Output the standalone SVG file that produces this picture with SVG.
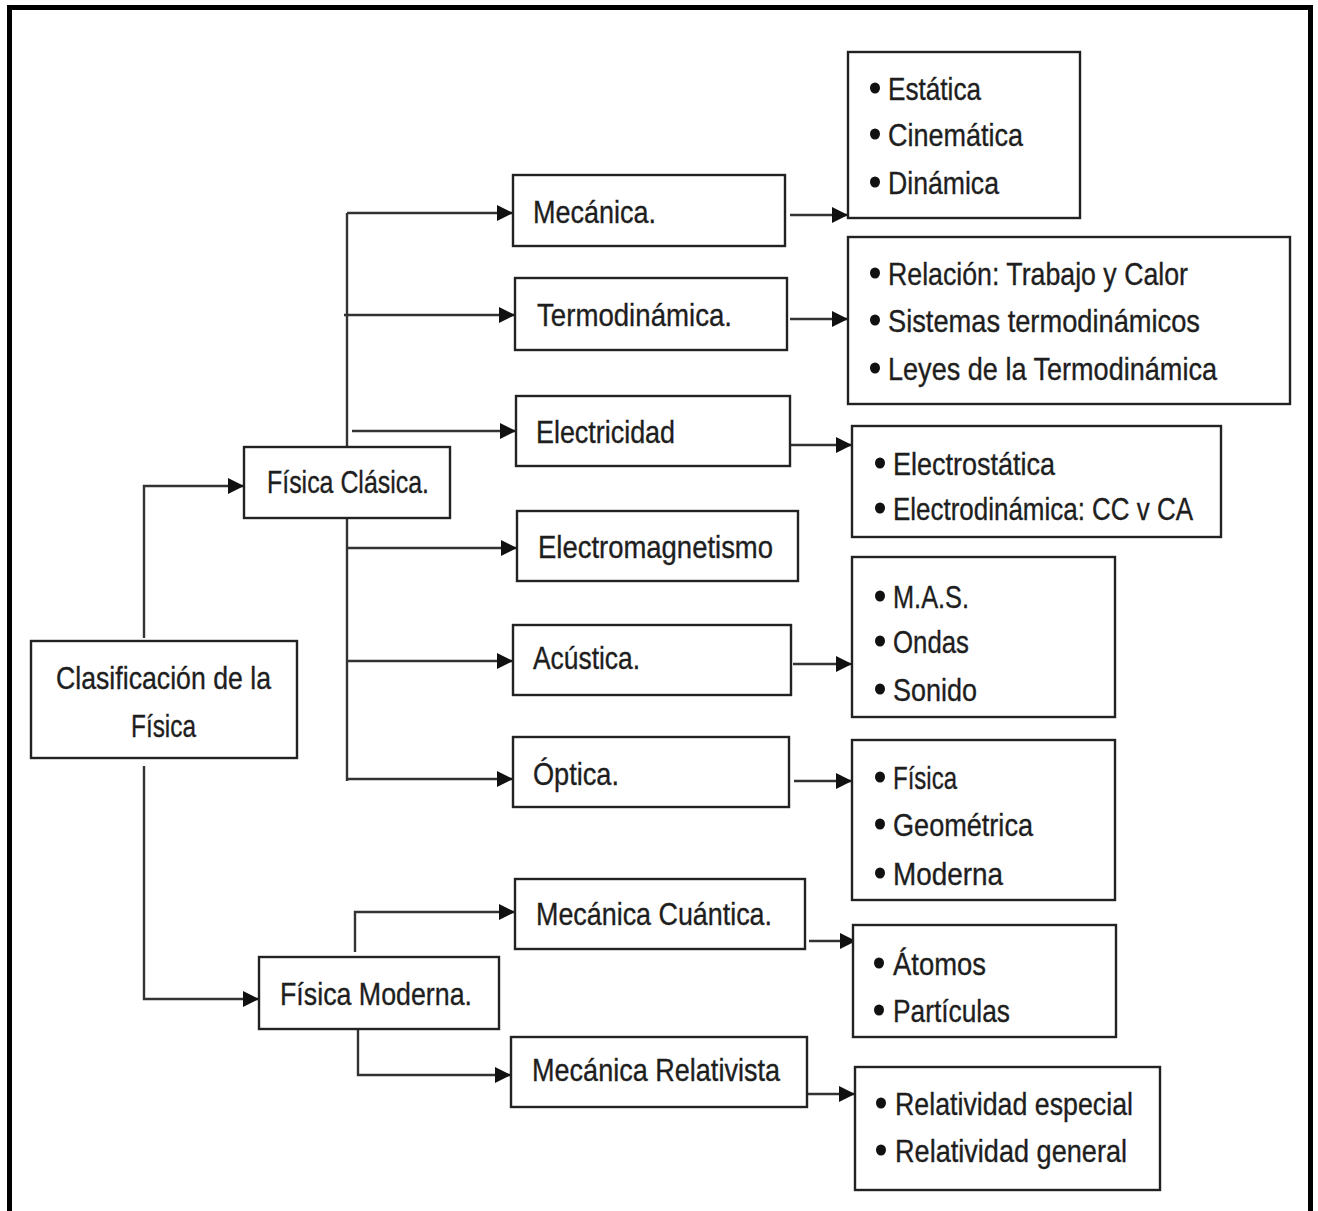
<svg xmlns="http://www.w3.org/2000/svg" width="1318" height="1211" viewBox="0 0 1318 1211">
<defs>
<marker id="ah" viewBox="0 0 16 16" refX="16" refY="8" markerWidth="16" markerHeight="16" markerUnits="userSpaceOnUse" orient="auto">
<path d="M0,0 L16,8 L0,16 Z" fill="#111"/>
</marker>
<style>
.box{fill:#fff;stroke:#222;stroke-width:2.4}
.t{font-family:"Liberation Sans",Arial,sans-serif;font-size:32px;fill:#1e1e1e;stroke:#1e1e1e;stroke-width:0.35}
.c{fill:none;stroke:#333;stroke-width:2.4}
.a{fill:none;stroke:#333;stroke-width:2.4;marker-end:url(#ah)}
.b{fill:#111}
</style>
</defs>
<rect width="1318" height="1211" fill="#fff"/>
<path d="M9.5,1220 V7.5 H1310.5 V1220" fill="none" stroke="#000" stroke-width="5"/>

<g id="connectors">
<path class="a" d="M144,638 V486 H244"/>
<path class="a" d="M144,766 V999 H259"/>
<path class="c" d="M347,213 V446"/>
<path class="c" d="M347,519 V781"/>
<path class="a" d="M347,213 H513"/>
<path class="a" d="M344,315 H515"/>
<path class="a" d="M352,431 H516"/>
<path class="a" d="M347,548 H517"/>
<path class="a" d="M347,661 H513"/>
<path class="a" d="M347,779 H513"/>
<path class="a" d="M355,952 V912 H515"/>
<path class="a" d="M358,1030 V1075 H511"/>
<path class="a" d="M790,215 H848"/>
<path class="a" d="M790,319 H848"/>
<path class="a" d="M790,445 H852"/>
<path class="a" d="M793,664 H852"/>
<path class="a" d="M794,781 H852"/>
<path class="a" d="M809,941 H856"/>
<path class="a" d="M807,1094 H855"/>
</g>

<g id="clasificacion">
<rect class="box" x="31" y="641" width="266" height="117"/>
<text class="t" x="56" y="689" textLength="215" lengthAdjust="spacingAndGlyphs">Clasificación de la</text>
<text class="t" x="131" y="737" textLength="65" lengthAdjust="spacingAndGlyphs">Física</text>
</g>

<g id="fisica-clasica">
<rect class="box" x="244" y="447" width="206" height="71"/>
<text class="t" x="267" y="493" textLength="162" lengthAdjust="spacingAndGlyphs">Física Clásica.</text>
</g>

<g id="fisica-moderna">
<rect class="box" x="259" y="957" width="240" height="72"/>
<text class="t" x="280" y="1005" textLength="192" lengthAdjust="spacingAndGlyphs">Física Moderna.</text>
</g>

<g id="mecanica">
<rect class="box" x="513" y="175" width="272" height="71"/>
<text class="t" x="533" y="223" textLength="123" lengthAdjust="spacingAndGlyphs">Mecánica.</text>
</g>

<g id="termodinamica">
<rect class="box" x="515" y="278" width="272" height="72"/>
<text class="t" x="537" y="326" textLength="195" lengthAdjust="spacingAndGlyphs">Termodinámica.</text>
</g>

<g id="electricidad">
<rect class="box" x="516" y="396" width="274" height="70"/>
<text class="t" x="536" y="443" textLength="139" lengthAdjust="spacingAndGlyphs">Electricidad</text>
</g>

<g id="electromagnetismo">
<rect class="box" x="517" y="511" width="281" height="70"/>
<text class="t" x="538" y="558" textLength="235" lengthAdjust="spacingAndGlyphs">Electromagnetismo</text>
</g>

<g id="acustica">
<rect class="box" x="513" y="625" width="278" height="70"/>
<text class="t" x="533" y="669" textLength="107" lengthAdjust="spacingAndGlyphs">Acústica.</text>
</g>

<g id="optica">
<rect class="box" x="513" y="737" width="276" height="70"/>
<text class="t" x="533" y="785" textLength="86" lengthAdjust="spacingAndGlyphs">Óptica.</text>
</g>

<g id="mecanica-cuantica">
<rect class="box" x="515" y="879" width="290" height="70"/>
<text class="t" x="536" y="925" textLength="236" lengthAdjust="spacingAndGlyphs">Mecánica Cuántica.</text>
</g>

<g id="mecanica-relativista">
<rect class="box" x="511" y="1037" width="296" height="70"/>
<text class="t" x="532" y="1081" textLength="248" lengthAdjust="spacingAndGlyphs">Mecánica Relativista</text>
</g>

<g id="mecanica-ramas">
<rect class="box" x="848" y="52" width="232" height="166"/>
<ellipse class="b" cx="875" cy="88" rx="5" ry="5.5"/>
<text class="t" x="888" y="100" textLength="93" lengthAdjust="spacingAndGlyphs">Estática</text>
<ellipse class="b" cx="875" cy="134" rx="5" ry="5.5"/>
<text class="t" x="888" y="146" textLength="135" lengthAdjust="spacingAndGlyphs">Cinemática</text>
<ellipse class="b" cx="875" cy="182" rx="5" ry="5.5"/>
<text class="t" x="888" y="194" textLength="111" lengthAdjust="spacingAndGlyphs">Dinámica</text>
</g>

<g id="termo-ramas">
<rect class="box" x="848" y="237" width="442" height="167"/>
<ellipse class="b" cx="875" cy="273" rx="5" ry="5.5"/>
<text class="t" x="888" y="285" textLength="300" lengthAdjust="spacingAndGlyphs">Relación: Trabajo y Calor</text>
<ellipse class="b" cx="875" cy="320" rx="5" ry="5.5"/>
<text class="t" x="888" y="332" textLength="312" lengthAdjust="spacingAndGlyphs">Sistemas termodinámicos</text>
<ellipse class="b" cx="875" cy="368" rx="5" ry="5.5"/>
<text class="t" x="888" y="380" textLength="329" lengthAdjust="spacingAndGlyphs">Leyes de la Termodinámica</text>
</g>

<g id="electricidad-ramas">
<rect class="box" x="852" y="426" width="369" height="111"/>
<ellipse class="b" cx="880" cy="463" rx="5" ry="5.5"/>
<text class="t" x="893" y="475" textLength="162" lengthAdjust="spacingAndGlyphs">Electrostática</text>
<ellipse class="b" cx="880" cy="508" rx="5" ry="5.5"/>
<text class="t" x="893" y="520" textLength="300" lengthAdjust="spacingAndGlyphs">Electrodinámica: CC v CA</text>
</g>

<g id="acustica-ramas">
<rect class="box" x="852" y="557" width="263" height="160"/>
<ellipse class="b" cx="880" cy="596" rx="5" ry="5.5"/>
<text class="t" x="893" y="608" textLength="76" lengthAdjust="spacingAndGlyphs">M.A.S.</text>
<ellipse class="b" cx="880" cy="641" rx="5" ry="5.5"/>
<text class="t" x="893" y="653" textLength="76" lengthAdjust="spacingAndGlyphs">Ondas</text>
<ellipse class="b" cx="880" cy="689" rx="5" ry="5.5"/>
<text class="t" x="893" y="701" textLength="84" lengthAdjust="spacingAndGlyphs">Sonido</text>
</g>

<g id="optica-ramas">
<rect class="box" x="852" y="740" width="263" height="160"/>
<ellipse class="b" cx="880" cy="777" rx="5" ry="5.5"/>
<text class="t" x="893" y="789" textLength="64" lengthAdjust="spacingAndGlyphs">Física</text>
<ellipse class="b" cx="880" cy="824" rx="5" ry="5.5"/>
<text class="t" x="893" y="836" textLength="140" lengthAdjust="spacingAndGlyphs">Geométrica</text>
<ellipse class="b" cx="880" cy="873" rx="5" ry="5.5"/>
<text class="t" x="893" y="885" textLength="110" lengthAdjust="spacingAndGlyphs">Moderna</text>
</g>

<g id="cuantica-ramas">
<rect class="box" x="853" y="925" width="263" height="112"/>
<ellipse class="b" cx="879" cy="963" rx="5" ry="5.5"/>
<text class="t" x="893" y="975" textLength="93" lengthAdjust="spacingAndGlyphs">Átomos</text>
<ellipse class="b" cx="879" cy="1010" rx="5" ry="5.5"/>
<text class="t" x="893" y="1022" textLength="117" lengthAdjust="spacingAndGlyphs">Partículas</text>
</g>

<g id="relativista-ramas">
<rect class="box" x="855" y="1067" width="305" height="123"/>
<ellipse class="b" cx="881" cy="1103" rx="5" ry="5.5"/>
<text class="t" x="895" y="1115" textLength="238" lengthAdjust="spacingAndGlyphs">Relatividad especial</text>
<ellipse class="b" cx="881" cy="1150" rx="5" ry="5.5"/>
<text class="t" x="895" y="1162" textLength="232" lengthAdjust="spacingAndGlyphs">Relatividad general</text>
</g>
</svg>
